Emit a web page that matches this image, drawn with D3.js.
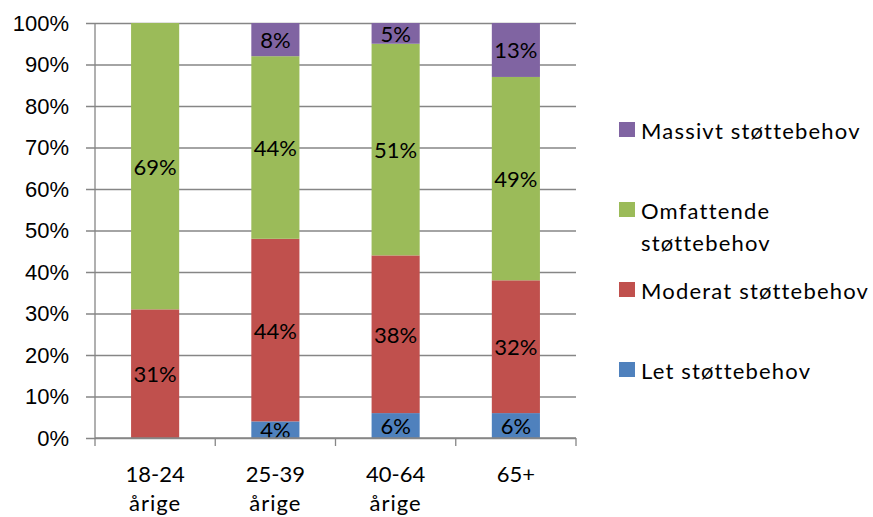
<!DOCTYPE html>
<html>
<head>
<meta charset="utf-8">
<script src="https://cdn.jsdelivr.net/npm/d3@7"></script>
<style>
  body { margin: 0; background: #fff; }
  svg { font-family: Lato, "Open Sans", sans-serif; }
</style>
</head>
<body>
<div id="chart"></div>
<script>
// Chart data (percent of each age group)
var categories = ["18-24 årige", "25-39 årige", "40-64 årige", "65+"];
var seriesNames = ["Let støttebehov", "Moderat støttebehov", "Omfattende støttebehov", "Massivt støttebehov"];
var seriesColors = ["#4F81BD", "#C0504D", "#9BBB59", "#8064A2"];
var letValues = [0, 4, 6, 6];
var moderatValues = [31, 44, 38, 32];
var omfattendeValues = [69, 44, 51, 49];
var massivtValues = [0, 8, 5, 13];
var yTicks = [0, 10, 20, 30, 40, 50, 60, 70, 80, 90, 100];

var width = 873, height = 517;
var margin = { top: 23, left: 95, right: 297, bottom: 79 };
var fontSize = 22;

// table for d3.stack
var allValues = [letValues, moderatValues, omfattendeValues, massivtValues];
var table = categories.map(function(c, i) {
  var row = { category: c };
  seriesNames.forEach(function(s, j) { row[s] = allValues[j][i]; });
  return row;
});

var svg = d3.select("#chart").append("svg")
    .attr("width", width)
    .attr("height", height);

var x = d3.scaleBand()
    .domain(categories)
    .range([margin.left, width - margin.right])
    .paddingInner(0.6)
    .paddingOuter(0.3);

var y = d3.scaleLinear()
    .domain([0, 100])
    .range([height - margin.bottom, margin.top]);

// gridlines + y axis
var yAxis = d3.axisLeft(y)
    .tickValues(yTicks)
    .tickFormat(function(d) { return d + "%"; })
    .tickSize(-(width - margin.right - margin.left))
    .tickPadding(26);

var gy = svg.append("g")
    .attr("transform", "translate(" + margin.left + ",0)")
    .call(yAxis);
gy.select(".domain").remove();
gy.selectAll(".tick line")
    .attr("x1", -9)
    .attr("stroke", "#868686")
    .attr("stroke-width", 1.3);
gy.selectAll(".tick text")
    .attr("font-size", fontSize)
    .attr("fill", "#000");

// stacked bars
var stack = d3.stack().keys(seriesNames);
var layers = stack(table);

var layer = svg.selectAll(".layer")
    .data(layers)
    .enter().append("g")
    .attr("class", "layer")
    .attr("fill", function(d, i) { return seriesColors[i]; });

layer.selectAll("rect")
    .data(function(d) { return d; })
    .enter().append("rect")
    .attr("x", function(d) { return x(d.data.category); })
    .attr("width", x.bandwidth())
    .attr("y", function(d) { return y(d[1]); })
    .attr("height", function(d) { return y(d[0]) - y(d[1]); });

// y axis line and x axis
svg.append("line")
    .attr("x1", margin.left).attr("x2", margin.left)
    .attr("y1", y(100)).attr("y2", y(0))
    .attr("stroke", "#868686").attr("stroke-width", 1.3);

var xStep = x.step();
var xBounds = d3.range(categories.length + 1).map(function(i) { return margin.left + i * xStep; });
var gx = svg.append("g");
gx.append("line")
    .attr("x1", margin.left).attr("x2", width - margin.right)
    .attr("y1", y(0)).attr("y2", y(0))
    .attr("stroke", "#868686").attr("stroke-width", 1.3);
gx.selectAll(".xtick")
    .data(xBounds)
    .enter().append("line")
    .attr("x1", function(d) { return d; }).attr("x2", function(d) { return d; })
    .attr("y1", y(0)).attr("y2", y(0) + 8)
    .attr("stroke", "#868686").attr("stroke-width", 1.3);

// category labels, wrapped on the space
gx.selectAll(".xlabel")
    .data(categories)
    .enter().append("text")
    .attr("text-anchor", "middle")
    .attr("font-size", fontSize)
    .attr("x", function(d) { return x(d) + x.bandwidth() / 2; })
    .attr("y", y(0) + 44)
    .each(function(d) {
      var parts = d.split(" ");
      var t = d3.select(this);
      parts.forEach(function(p, k) {
        t.append("tspan")
          .attr("x", x(d) + x.bandwidth() / 2)
          .attr("dy", k === 0 ? 0 : 29)
          .attr("letter-spacing", k === 0 ? 0 : 1)
          .text(p);
      });
    });

// value labels in the segments
layer.selectAll(".val")
    .data(function(d) { return d.filter(function(s) { return s[1] - s[0] > 0; }); })
    .enter().append("text")
    .attr("fill", "#000")
    .attr("text-anchor", "middle")
    .attr("dominant-baseline", "central")
    .attr("font-size", fontSize)
    .attr("x", function(d) { return x(d.data.category) + x.bandwidth() / 2; })
    .attr("y", function(d) { return y((d[0] + d[1]) / 2); })
    .text(function(d) { return (d[1] - d[0]) + "%"; });

// legend, top entry is the last series
var legendX = 619, legendTop = 129.5, legendStep = 80, maxTextWidth = 240;
var legend = svg.append("g");
var entries = legend.selectAll(".entry")
    .data(seriesNames.slice().reverse())
    .enter().append("g")
    .attr("transform", function(d, i) { return "translate(" + legendX + "," + (legendTop + i * legendStep) + ")"; });

entries.append("rect")
    .attr("x", 0).attr("y", -7.5)
    .attr("width", 16).attr("height", 15)
    .attr("fill", function(d) { return seriesColors[seriesNames.indexOf(d)]; });

entries.append("text")
    .attr("font-size", fontSize)
    .attr("letter-spacing", 1.2)
    .attr("x", 22)
    .attr("y", 0)
    .attr("dominant-baseline", "central")
    .each(function(d) {
      var t = d3.select(this);
      var words = d.split(" ");
      var line = [];
      var tspan = t.append("tspan").attr("x", 22);
      words.forEach(function(w) {
        line.push(w);
        tspan.text(line.join(" "));
        if (tspan.node().getComputedTextLength() > maxTextWidth && line.length > 1) {
          line.pop();
          tspan.text(line.join(" "));
          line = [w];
          tspan = t.append("tspan").attr("x", 22).attr("dy", 32).text(w);
        }
      });
    });
</script>
</body>
</html>
